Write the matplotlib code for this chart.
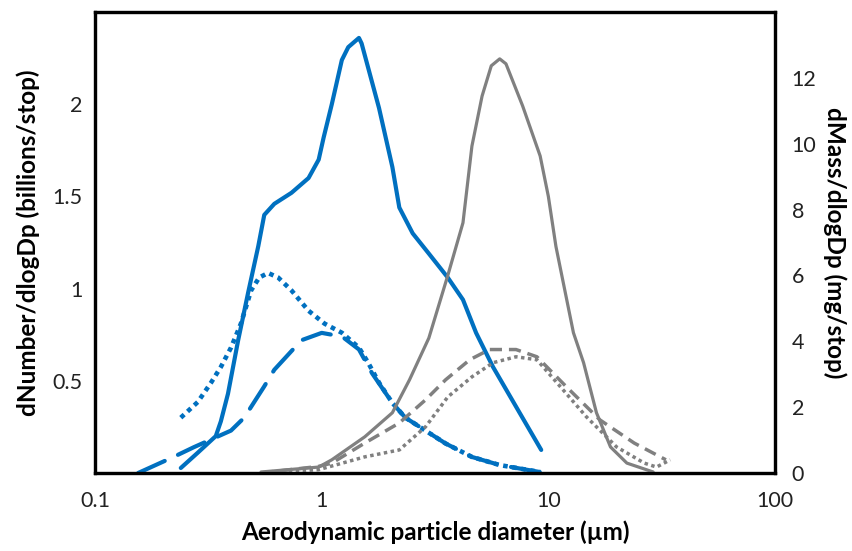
import matplotlib
matplotlib.use("Agg")
import matplotlib.pyplot as plt
from matplotlib.ticker import NullLocator

plt.rcParams["font.family"] = ["Lato", "DejaVu Sans"]

BLUE = "#0070C0"
GRAY = "#808080"

# number distributions (left axis, billions/stop)
num_solid_x = [0.239, 0.284, 0.341, 0.359, 0.386, 0.428, 0.474, 0.525, 0.558, 0.618, 0.736,
               0.875, 0.97, 1.02, 1.108, 1.227, 1.31, 1.46, 1.5, 1.79, 2.05, 2.2, 2.52,
               2.97, 3.6, 4.2, 4.8, 5.7, 7.2, 9.3]
num_solid_y = [0.027, 0.11, 0.2, 0.28, 0.43, 0.72, 0.98, 1.23, 1.40, 1.46, 1.52,
               1.60, 1.70, 1.82, 2.0, 2.24, 2.31, 2.36, 2.33, 1.98, 1.66, 1.44, 1.30,
               1.19, 1.06, 0.94, 0.76, 0.575, 0.36, 0.125]

num_dot_x = [0.239, 0.284, 0.325, 0.359, 0.398, 0.44, 0.488, 0.53, 0.58, 0.643, 0.736,
             0.875, 1.03, 1.23, 1.46, 1.6, 1.79, 2.05, 2.34, 2.87, 3.52, 4.6, 6.1, 9.2]
num_dot_y = [0.30, 0.385, 0.49, 0.575, 0.68, 0.81, 0.99, 1.06, 1.085, 1.06, 0.99,
             0.88, 0.81, 0.76, 0.68, 0.60, 0.49, 0.38, 0.30, 0.23, 0.16, 0.087, 0.043, 0.005]

num_dash_x = [0.155, 0.222, 0.273, 0.398, 0.455, 0.558, 0.618, 0.814, 1.0, 1.23, 1.46,
              1.67, 2.05, 2.34, 2.87, 3.52, 4.6, 6.1, 9.2]
num_dash_y = [0.0, 0.087, 0.14, 0.23, 0.30, 0.47, 0.56, 0.72, 0.76, 0.74, 0.67,
              0.54, 0.38, 0.30, 0.23, 0.16, 0.087, 0.043, 0.005]

# mass distributions (right axis, mg/stop)
mass_solid_x = [0.54, 0.97, 1.108, 1.55, 2.05, 2.44, 2.97, 3.6, 4.2, 4.6, 5.1, 5.6, 6.1,
                6.5, 7.7, 9.2, 10.0, 10.8, 12.9, 14.3, 16.3, 18.8, 22.2, 29.0]
mass_solid_y = [0.03, 0.18, 0.4, 1.1, 1.83, 2.83, 4.1, 6.0, 7.6, 9.93, 11.45, 12.37, 12.58,
                12.43, 11.15, 9.63, 8.4, 6.88, 4.26, 3.35, 1.83, 0.79, 0.3, 0.03]

mass_dash_x = [0.54, 0.97, 1.108, 1.55, 2.2, 2.87, 3.52, 4.5, 5.5, 7.2, 8.9, 12.0, 16.9,
               23.9, 33.0]
mass_dash_y = [0.0, 0.2, 0.3, 0.91, 1.52, 2.22, 2.83, 3.44, 3.75, 3.75, 3.53, 2.62, 1.61,
               0.91, 0.4]

mass_dot_x = [0.54, 0.97, 1.55, 2.2, 2.87, 3.6, 4.6, 5.7, 7.2, 8.9, 11.3, 14.7, 20.0,
              26.5, 30.0, 34.5]
mass_dot_y = [0.0, 0.1, 0.49, 0.7, 1.4, 2.31, 2.92, 3.35, 3.53, 3.44, 2.62, 1.71, 0.79,
              0.3, 0.18, 0.4]

X_TICKS = [0.1, 1, 10, 100]
X_TICK_LABELS = ["0.1", "1", "10", "100"]
LEFT_TICKS = [0.5, 1, 1.5, 2]
LEFT_TICK_LABELS = ["0.5", "1", "1.5", "2"]
RIGHT_TICKS = [0, 2, 4, 6, 8, 10, 12]


def main() -> None:
    fig = plt.figure(figsize=(8.53, 5.51), dpi=100)
    ax = fig.add_axes([0.1114, 0.1416, 0.7972, 0.8364])
    ax2 = ax.twinx()

    ax.plot(num_solid_x, num_solid_y, color=BLUE, lw=3.0, solid_joinstyle="round",
            solid_capstyle="round")
    ax.plot(num_dot_x, num_dot_y, color=BLUE, lw=3.3, linestyle=(0, (1, 1)),
            dash_capstyle="butt")
    ax.plot(num_dash_x, num_dash_y, color=BLUE, lw=3.0, linestyle=(0, (7, 3.5)),
            dash_capstyle="round")

    ax2.plot(mass_solid_x, mass_solid_y, color=GRAY, lw=2.3, solid_joinstyle="round",
             solid_capstyle="round")
    ax2.plot(mass_dash_x, mass_dash_y, color=GRAY, lw=2.5, linestyle=(0, (3.5, 2)))
    ax2.plot(mass_dot_x, mass_dot_y, color=GRAY, lw=2.5, linestyle=(0, (1, 1)))

    ax.set_xscale("log")
    ax.set_xlim(0.1, 100)
    ax.set_ylim(0, 2.5)
    ax2.set_ylim(0, 14)

    ax.set_xticks(X_TICKS)
    ax.set_xticklabels(X_TICK_LABELS)
    ax.xaxis.set_minor_locator(NullLocator())
    ax.set_yticks(LEFT_TICKS)
    ax.set_yticklabels(LEFT_TICK_LABELS)
    ax2.set_yticks(RIGHT_TICKS)
    ax2.set_yticklabels([str(t) for t in RIGHT_TICKS])

    ax.tick_params(axis="x", length=0, pad=13, labelsize=15.5, colors="#222222")
    ax.tick_params(axis="y", length=0, pad=9, labelsize=15.5, colors="#222222")
    ax2.tick_params(axis="y", length=0, pad=12, labelsize=15.5, colors="#222222")

    for a in (ax, ax2):
        for spine in a.spines.values():
            spine.set_linewidth(2.3)
            spine.set_color("black")

    ax.set_xlabel("Aerodynamic particle diameter (µm)", fontsize=17.5, fontweight="bold",
                  labelpad=7)
    ax.set_ylabel("dNumber/dlogDp (billions/stop)", fontsize=17.5, fontweight="bold",
                  labelpad=9)
    ax2.set_ylabel("dMass/dlogDp (mg/stop)", fontsize=17.5, fontweight="bold",
                   rotation=270, labelpad=22)

    fig.savefig("out.png", dpi=100)


if __name__ == "__main__":
    main()
